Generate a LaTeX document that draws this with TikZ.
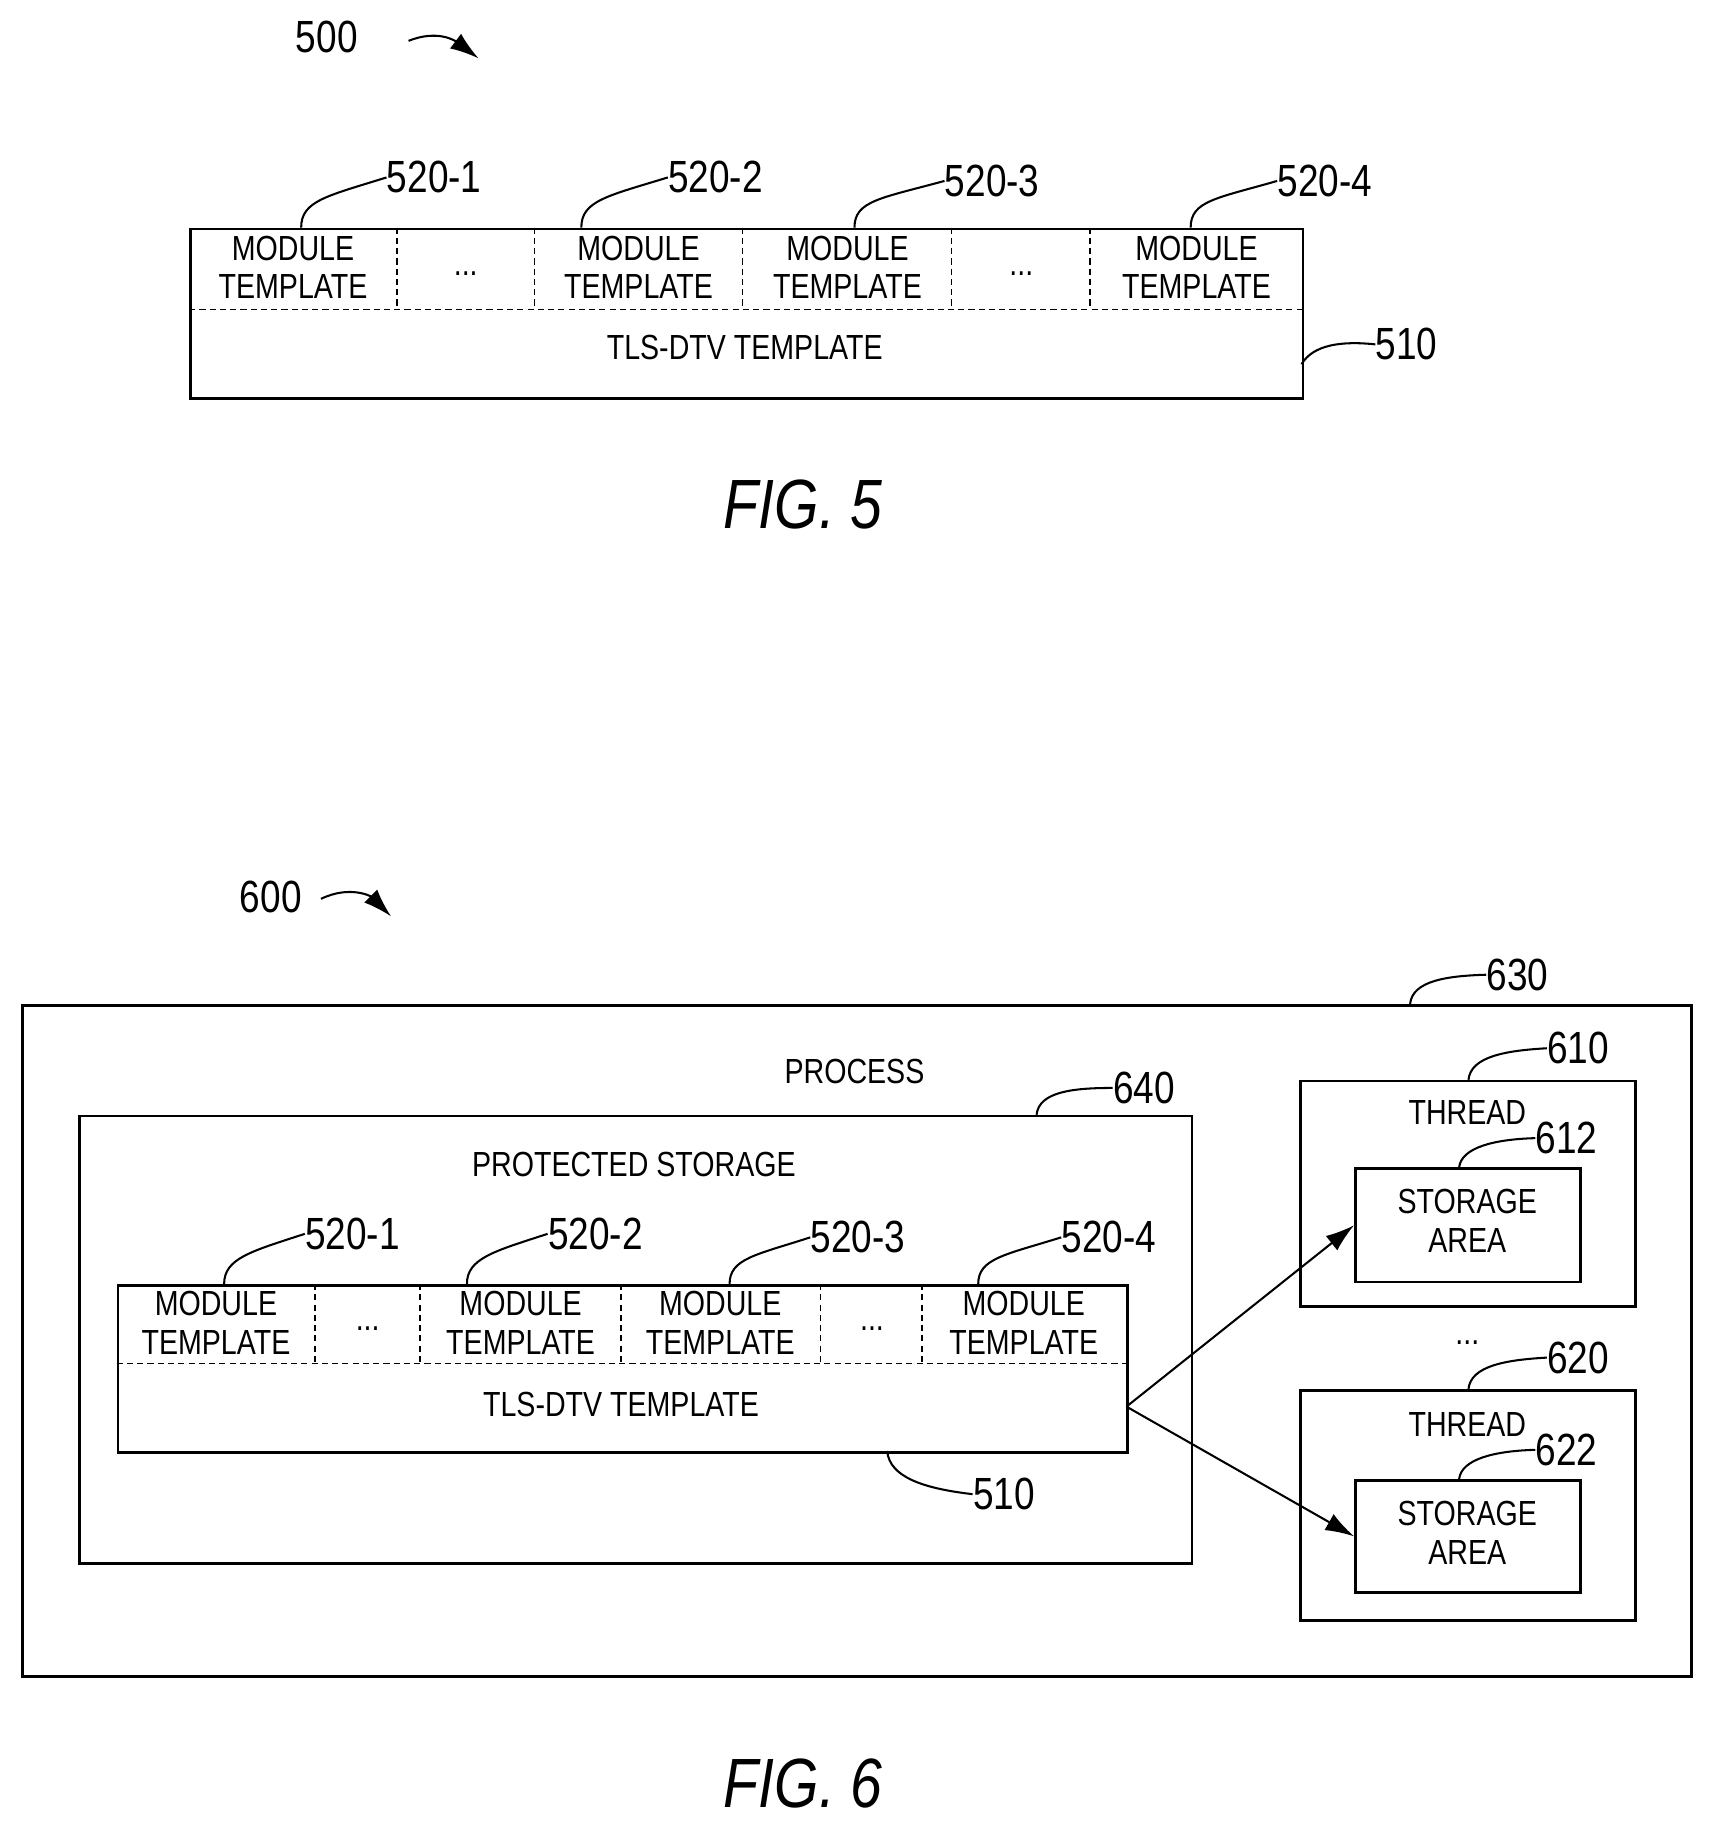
\documentclass[tikz,border=0pt]{standalone}
\usepackage{fontspec}
\setmainfont{Liberation Sans}[FakeStretch=0.82]
\usetikzlibrary{arrows.meta}
\begin{document}
\begin{tikzpicture}[x=0.02cm,y=-0.02cm,
 box/.style={draw,line width=1.3pt},
 cell/.style={draw,line width=0.8pt,densely dashed},
 txt/.style={font=\fontsize{17}{19}\selectfont,align=center,inner sep=0pt},
 lab/.style={font=\fontsize{22}{24}\selectfont,inner sep=0pt},
 lead/.style={line width=1pt},
 arr/.style={line width=1pt,-{Latex[length=14pt,width=9pt]}},
 fig/.style={font=\fontsize{34}{36}\selectfont\itshape,inner sep=0pt}]
\useasboundingbox (0,0) rectangle (1467,1566);
% ===== FIG 5
\node[lab] (l500) at (280,32) {500};
\coordinate (a500) at (410,50);
\draw[arr] (350,35) .. controls (375,25) and (390,35) .. (a500);
\node[box,minimum width=953*0.02cm,minimum height=145*0.02cm,anchor=north west] (t5) at (162,195) {};
\draw[cell] (162,265) -- (1115,265);
\foreach \x in {340,458,636,815,934} \draw[cell] (\x,195) -- (\x,265);
\node[txt] (m51) at (251,229) {MODULE\\TEMPLATE};
\node[txt] (d51) at (399,234) {...};
\node[txt] (m52) at (547,229) {MODULE\\TEMPLATE};
\node[txt] (m53) at (726,229) {MODULE\\TEMPLATE};
\node[txt] (d52) at (875,234) {...};
\node[txt] (m54) at (1025,229) {MODULE\\TEMPLATE};
\node[txt] (tls5) at (638,298) {TLS-DTV TEMPLATE};
\node[lab] (l5201) at (372,152) {520-1};
\node[lab] (l5202) at (613,152) {520-2};
\node[lab] (l5203) at (850,155) {520-3};
\node[lab] (l5204) at (1135,155) {520-4};
\node[lab] (l510a) at (1205,295) {510};
\draw[lead] (258,195) .. controls (258,172) and (280,168) .. (l5201.west);
\draw[lead] (498,195) .. controls (498,172) and (520,168) .. (l5202.west);
\draw[lead] (732,195) .. controls (732,172) and (754,170) .. (l5203.west);
\draw[lead] (1020,195) .. controls (1020,172) and (1042,170) .. (l5204.west);
\draw[lead] (1115,312) .. controls (1125,295) and (1150,292) .. (l510a.west);
\node[fig] (f5) at (688,432) {FIG. 5};
% ===== FIG 6
\node[lab] (l600) at (232,768) {600};
\coordinate (a600) at (335,785);
\draw[arr] (275,770) .. controls (300,758) and (318,768) .. (a600);
\node[box,minimum width=1430*0.02cm,minimum height=575*0.02cm,anchor=north west] (b630) at (18,860) {};
\node[lab] (l630) at (1300,835) {630};
\draw[lead] (1208,860) .. controls (1210,840) and (1240,836) .. (l630.west);
\node[txt] (proc) at (732,918) {PROCESS};
\node[box,minimum width=953*0.02cm,minimum height=383*0.02cm,anchor=north west] (b640) at (67,955) {};
\node[lab] (l640) at (980,932) {640};
\draw[lead] (888,955) .. controls (890,935) and (920,932) .. (l640.west);
\node[txt] (ps) at (543,998) {PROTECTED STORAGE};
\node[box,minimum width=865*0.02cm,minimum height=143*0.02cm,anchor=north west] (t6) at (100,1100) {};
\draw[cell] (100,1168) -- (965,1168);
\foreach \x in {270,360,532,703,790} \draw[cell] (\x,1100) -- (\x,1168);
\node[txt] (m61) at (185,1133) {MODULE\\TEMPLATE};
\node[txt] (d61) at (315,1138) {...};
\node[txt] (m62) at (446,1133) {MODULE\\TEMPLATE};
\node[txt] (m63) at (617,1133) {MODULE\\TEMPLATE};
\node[txt] (d62) at (747,1138) {...};
\node[txt] (m64) at (877,1133) {MODULE\\TEMPLATE};
\node[txt] (tls6) at (532,1203) {TLS-DTV TEMPLATE};
\node[lab] (l6201) at (302,1057) {520-1};
\node[lab] (l6202) at (510,1057) {520-2};
\node[lab] (l6203) at (735,1060) {520-3};
\node[lab] (l6204) at (950,1060) {520-4};
\draw[lead] (192,1100) .. controls (192,1078) and (215,1072) .. (l6201.west);
\draw[lead] (400,1100) .. controls (400,1078) and (423,1072) .. (l6202.west);
\draw[lead] (625,1100) .. controls (625,1078) and (648,1075) .. (l6203.west);
\draw[lead] (838,1100) .. controls (838,1078) and (861,1075) .. (l6204.west);
\node[lab] (l510b) at (860,1280) {510};
\draw[lead] (760,1243) .. controls (762,1265) and (790,1275) .. (l510b.west);
% threads
\node[box,minimum width=287*0.02cm,minimum height=193*0.02cm,anchor=north west] (b610) at (1113,925) {};
\node[lab] (l610) at (1352,898) {610};
\draw[lead] (1258,925) .. controls (1260,905) and (1290,900) .. (l610.west);
\node[txt] (th1) at (1257,953) {THREAD};
\node[box,minimum width=193*0.02cm,minimum height=97*0.02cm,anchor=north west] (b612) at (1160,1000) {};
\node[txt] (sa1) at (1257,1046) {STORAGE\\AREA};
\node[lab] (l612) at (1342,975) {612};
\draw[lead] (1250,1000) .. controls (1252,983) and (1280,976) .. (l612.west);
\node[txt] (dots) at (1257,1150) {...};
\node[box,minimum width=287*0.02cm,minimum height=197*0.02cm,anchor=north west] (b620) at (1113,1190) {};
\node[lab] (l620) at (1352,1163) {620};
\draw[lead] (1258,1190) .. controls (1260,1170) and (1290,1165) .. (l620.west);
\node[txt] (th2) at (1257,1220) {THREAD};
\node[box,minimum width=193*0.02cm,minimum height=96*0.02cm,anchor=north west] (b622) at (1160,1267) {};
\node[txt] (sa2) at (1257,1313) {STORAGE\\AREA};
\node[lab] (l622) at (1342,1242) {622};
\draw[lead] (1250,1267) .. controls (1252,1250) and (1280,1243) .. (l622.west);
\coordinate (src) at (965,1205);
\draw[arr] (src) -- (b612.west);
\draw[arr] (src) -- (b622.west);
\node[fig] (f6) at (688,1528) {FIG. 6};
\end{tikzpicture}
\end{document}
